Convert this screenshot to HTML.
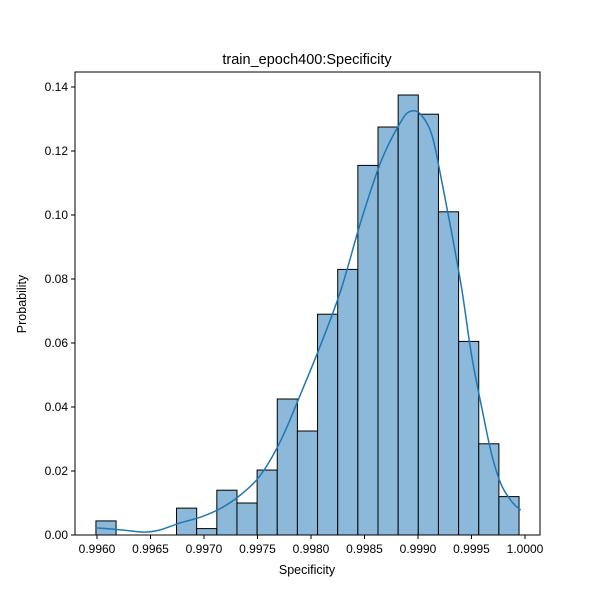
<!DOCTYPE html>
<html><head><meta charset="utf-8"><style>
body{margin:0;background:#fff;font-family:"Liberation Sans",sans-serif;}
svg text{font-family:"Liberation Sans",sans-serif;fill:#000;}
</style></head><body>
<svg width="600" height="600" xmlns="http://www.w3.org/2000/svg">
<g id="g"></g>
</svg>
<script>
const binStart = 0.99599;
const binWidth = 0.0001883;
const probs = [0.0044,0,0,0,0.0084,0.002,0.014,0.0100,0.0203,0.0425,0.0325,0.069,0.083,0.1155,0.1275,0.1375,0.1315,0.101,0.0605,0.0285,0.012];
const kdeX = [0.99600,0.99612,0.99631,0.99645,0.99659,0.99678,0.99697,0.99716,0.99734,0.99753,0.99772,0.99790,0.99809,0.99828,0.99847,0.99866,0.99885,0.99894,0.99903,0.99913,0.99922,0.99931,0.99941,0.99950,0.99960,0.99969,0.99978,0.99988,0.99996];
const kdeY = [0.0022,0.0019,0.0013,0.0009,0.0016,0.0038,0.0056,0.0084,0.0125,0.0188,0.0297,0.0438,0.0594,0.0766,0.0984,0.1172,0.1297,0.1325,0.1313,0.1250,0.1109,0.0953,0.0766,0.0563,0.0391,0.0250,0.0156,0.0103,0.0078];
const xTicks = [0.9960,0.9965,0.9970,0.9975,0.9980,0.9985,0.9990,0.9995,1.0000];
const yTicks = [0,0.02,0.04,0.06,0.08,0.10,0.12,0.14];
const L=75,R=540,T=72,B=535;
const xs=v=>97+(v-0.996)*107000;
const ys=v=>B-v*3200;
const g=document.getElementById('g');
const NS='http://www.w3.org/2000/svg';
function mk(t,a,p){const e=document.createElementNS(NS,t);for(const k in a)e.setAttribute(k,a[k]);(p||g).appendChild(e);return e;}
probs.forEach((p,i)=>{if(p<=0)return;
 const x0=xs(binStart+i*binWidth),x1=xs(binStart+(i+1)*binWidth);
 const r=mk('rect',{x:x0,y:ys(p),width:x1-x0,height:B-ys(p),fill:'#8cb9d9',stroke:'#000','stroke-width':1});
 
 
});
const P=kdeX.map((x,i)=>[xs(x),ys(kdeY[i])]);
let d='M'+P[0][0]+','+P[0][1];
for(let i=0;i<P.length-1;i++){
 const p0=P[Math.max(0,i-1)],p1=P[i],p2=P[i+1],p3=P[Math.min(P.length-1,i+2)];
 const c1=[p1[0]+(p2[0]-p0[0])/6,p1[1]+(p2[1]-p0[1])/6];
 const c2=[p2[0]-(p3[0]-p1[0])/6,p2[1]-(p3[1]-p1[1])/6];
 d+=' C'+c1.join(',')+' '+c2.join(',')+' '+p2.join(',');
}
const pl=mk('path',{d:d,fill:'none',stroke:'#1f77b4','stroke-width':1.5});


const fr=mk('rect',{x:L,y:T,width:R-L,height:B-T,fill:'none',stroke:'#000','stroke-width':1});


xTicks.forEach(v=>{const x=xs(v);mk('line',{x1:x,x2:x,y1:B,y2:B+4,stroke:'#000'});
 const t=mk('text',{x:x,y:B+18,'text-anchor':'middle','font-size':12});t.textContent=v.toFixed(4);
 
 });
yTicks.forEach(v=>{const y=ys(v);mk('line',{x1:L-4,x2:L,y1:y,y2:y,stroke:'#000'});
 const t=mk('text',{x:L-7,y:y+4,'text-anchor':'end','font-size':12});t.textContent=v.toFixed(2);
 
 });
let t=mk('text',{x:307,y:64,'text-anchor':'middle','font-size':14.5});t.textContent='train_epoch400:Specificity';


t=mk('text',{x:307,y:574,'text-anchor':'middle','font-size':12.5});t.textContent='Specificity';


t=mk('text',{x:26,y:304,'text-anchor':'middle','font-size':12.5,transform:'rotate(-90 26 304)'});t.textContent='Probability';


</script>
</body></html>
